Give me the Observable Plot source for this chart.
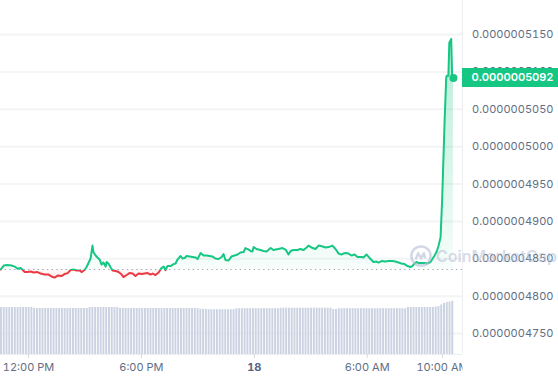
<!DOCTYPE html>
<html>
<head>
<meta charset="utf-8">
<script src="https://cdn.jsdelivr.net/npm/d3@7"></script>
<script src="https://cdn.jsdelivr.net/npm/@observablehq/plot@0.6"></script>
<style>
  html, body { margin: 0; padding: 0; background: #fff; }
  #chart { position: relative; width: 558px; height: 380px; overflow: hidden; font-family: Inter, "Noto Sans", sans-serif; }
  #chart svg { position: absolute; left: 0; top: 0; }
  .badge { position: absolute; background: #16c784; color: #fff; font-size: 11px; font-weight: 600; box-sizing: border-box; height: 19px; line-height: 19px; padding-left: 9.5px; }
  .wm { position: absolute; display: flex; align-items: center; gap: 3px; color: rgba(180,190,212,0.55); font-size: 16px; font-weight: 600; pointer-events: none; }
</style>
</head>
<body>
<div id="chart"></div>
<script>
// ---- data (prices in units of 1e-10 USD) ----
const START = new Date(2023, 4, 17, 10, 31);
const minutes = [
  0,10,22,35,45,54,64,77,86,96,
  105,118,128,140,153,166,172,182,194,204,
  214,223,233,242,252,258,268,274,281,287,
  293,296,303,309,316,322,328,335,338,344,
  351,357,367,376,386,392,402,411,421,430,
  440,450,459,469,478,485,494,504,513,520,
  526,532,542,552,558,564,574,580,587,593,
  603,612,622,628,638,647,657,666,676,685,
  695,705,711,717,727,736,746,756,765,775,
  781,791,797,803,807,816,829,838,848,861,
  870,877,886,899,909,918,925,934,947,956,
  966,976,982,995,1004,1014,1027,1036,1046,1058,
  1068,1078,1087,1093,1100,1109,1119,1129,1138,1151,
  1157,1167,1173,1180,1189,1199,1205,1215,1227,1237,
  1250,1259,1269,1278,1288,1298,1307,1313,1320,1326,
  1333,1342,1352,1361,1371,1377,1384,1390,1396,1403,
  1408,1411,1414,1416,1419,1421,1423,1428,1431,1437,
  1440,1444
];
const prices = [
  4835.6,4841,4841.7,4841,4839.6,4836.6,4837.6,4832.3,4832.3,4833,
  4831.6,4832.3,4830.3,4828.9,4828.9,4825.6,4824.9,4827.6,4826.9,4829.6,
  4830.9,4835.0,4835.6,4834.3,4834.3,4832.3,4835.0,4839.0,4845.0,4850.4,
  4867.7,4859.0,4854.4,4851.7,4849.0,4842.3,4845.0,4839.6,4845.7,4843.7,
  4838.3,4834.3,4833.6,4832.3,4828.9,4825.6,4828.3,4830.9,4830.3,4826.9,
  4830.3,4829.6,4830.3,4830.9,4828.9,4830.3,4828.3,4831.6,4837.6,4839.6,
  4834.8,4840.3,4840.3,4843.0,4843.7,4849.0,4853.7,4850.4,4851.0,4853.7,
  4853.0,4852.4,4851.7,4849.7,4857.7,4854.4,4854.4,4853.7,4853.0,4850.4,
  4849.7,4852.4,4856.4,4848.3,4847.7,4853.0,4854.4,4855.7,4858.4,4859.0,
  4864.4,4862.4,4860.4,4859.7,4865.7,4863.1,4861.7,4860.4,4859.7,4864.4,
  4861.7,4862.4,4863.1,4864.4,4862.4,4855.7,4860.4,4861.7,4861.7,4863.1,
  4861.7,4865.1,4867.7,4864.4,4863.1,4867.7,4866.4,4865.1,4865.7,4867.7,
  4863.1,4857.0,4855.7,4857.0,4857.7,4857.0,4854.4,4855.7,4852.4,4852.4,
  4851.7,4855.7,4853.0,4849.7,4845.7,4846.3,4845.0,4847.0,4846.3,4847.0,
  4847.0,4846.3,4845.0,4843.7,4843.0,4840.3,4839.0,4840.3,4843.7,4845.7,
  4844.3,4844.3,4844.3,4843.7,4845.7,4849.7,4854.4,4859.0,4866.4,4878.4,
  4928,4968,5008,5035,5068,5092,5095,5095,5139,5144,
  5094,5092
];
const OPEN = 4835.6;
const LAST = 5092;

// volume bars (arbitrary units), one per step
const VOL_STEP_MIN = 8.83;
const VOL_BAR_MIN = 6.2;
const volumes = [
  47,47,47,47,47,47,47,47,47,47,47,47,
  46,46,46,46,46,46,46,46,46,46,46,46,46,46,46,46,46,46,46,46,
  47,47,47,47,47,47,47,47,47,47,47,
  46,46,46,46,46,46,46,46,46,46,46,46,46,46,46,46,46,46,46,46,46,46,46,46,46,46,46,46,46,
  45.2,45.2,45.2,
  44.8,44.8,44.8,44.8,44.8,44.8,44.8,44.8,44.8,44.8,
  45.8,45.8,45.8,45.8,45.8,45.8,45.8,45.8,45.8,45.8,45.8,45.8,45.8,45.8,45.8,45.8,
  46.3,46.3,46.3,46.3,46.3,46.3,46.3,46.3,46.3,46.3,46.3,46.3,46.3,46.3,46.3,46.3,46.3,46.3,46.3,
  45,45,
  45.8,45.8,45.8,45.8,45.8,45.8,45.8,45.8,45.8,45.8,45.8,45.8,45.8,45.8,45.8,45.8,45.8,45.8,45.8,45.8,45.8,45.8,45.8,45.8,45.8,
  47,47,47,47,47,47,47,47,47,47,
  47.5,48,49.5,51,52,52.5,53.3
];

const yTicks = [4750, 4800, 4850, 4900, 4950, 5000, 5050, 5100, 5150];
const xTickTimes = [
  new Date(2023, 4, 17, 12, 0),
  new Date(2023, 4, 17, 18, 0),
  new Date(2023, 4, 18, 0, 0),
  new Date(2023, 4, 18, 6, 0),
  new Date(2023, 4, 18, 10, 0)
];
const xTickLabels = ["12:00 PM", "6:00 PM", "18", "6:00 AM", "10:00 AM"];
const X_DOMAIN = [new Date(2023, 4, 17, 10, 30, 40), new Date(2023, 4, 18, 11, 4)];
const Y_DOMAIN = [4722, 5195.5];

// ---- build tables ----
const series = minutes.map((m, i) => ({t: new Date(+START + m * 60000), p: prices[i]}));
const volTable = volumes.map((v, i) => ({
  t1: new Date(+X_DOMAIN[0] + i * VOL_STEP_MIN * 60000),
  t2: new Date(+X_DOMAIN[0] + (i * VOL_STEP_MIN + VOL_BAR_MIN) * 60000),
  v
}));

const W = 558, H = 380;
const common = {width: W, height: H, marginLeft: 0, marginRight: 96, marginBottom: 26};

const main = Plot.plot({
  ...common,
  marginTop: 0,
  style: {fontFamily: "Inter, 'Noto Sans', sans-serif", fontSize: "11px", color: "#616e85", background: "transparent", overflow: "visible"},
  x: {type: "time", domain: X_DOMAIN, label: null},
  y: {domain: Y_DOMAIN, label: null},
  marks: [
    Plot.ruleY(yTicks, {stroke: "#f3f4f6", strokeWidth: 2}),
    Plot.ruleX([X_DOMAIN[1]], {stroke: "#eceef2"}),
    Plot.ruleY([Y_DOMAIN[0]], {stroke: "#eceef2"}),
    Plot.areaY(series, {x: "t", y1: OPEN, y2: "p", fill: "url(#cmcArea)"}),
    Plot.ruleY([OPEN], {stroke: "#9da3ae", strokeDasharray: "1.3,3.4", strokeWidth: 1.1}),
    Plot.line(series, {x: "t", y: "p", stroke: "url(#cmcLine)", strokeWidth: 2}),
    Plot.dot([series[series.length - 1]], {x: "t", y: "p", r: 4, fill: "#16c784"}),
    Plot.axisY({anchor: "right", ticks: yTicks, tickSize: 0, tickPadding: 9.5,
      tickFormat: d => (d / 1e10).toFixed(10), fill: "#616e85", label: null}),
    Plot.axisX({ticks: xTickTimes, tickSize: 4, tickPadding: 5, stroke: "#d5d9e0", fill: "#616e85",
      tickFormat: d => xTickLabels[xTickTimes.findIndex(t => +t === +d)], label: null})
  ]
});

const volPlot = Plot.plot({
  ...common,
  marginTop: 300,
  style: {background: "transparent"},
  x: {type: "time", domain: X_DOMAIN, axis: null},
  y: {domain: [0, 54], axis: null},
  marks: [
    Plot.rect(volTable, {x1: "t1", x2: "t2", y1: 0, y2: "v", fill: "#cbd3e2"})
  ]
});

// ---- gradients & clip, placed using the scales ----
const ys = main.scale("y");
const xs = main.scale("x");
const by = ys.apply(OPEN);
const yHi = ys.apply(d3.max(prices));
const yLo = ys.apply(d3.min(prices));
const frameRight = xs.range[1];

const svgSel = d3.select(main);
const defs = svgSel.insert("defs", ":first-child");
const lg = defs.append("linearGradient").attr("id", "cmcLine").attr("gradientUnits", "userSpaceOnUse")
  .attr("x1", 0).attr("x2", 0).attr("y1", 0).attr("y2", H);
lg.append("stop").attr("offset", by / H).attr("stop-color", "#16c784");
lg.append("stop").attr("offset", by / H).attr("stop-color", "#ea3943");

const ag = defs.append("linearGradient").attr("id", "cmcArea").attr("gradientUnits", "userSpaceOnUse")
  .attr("x1", 0).attr("x2", 0).attr("y1", yHi).attr("y2", yLo);
const f = (by - yHi) / (yLo - yHi);
ag.append("stop").attr("offset", 0).attr("stop-color", "#16c784").attr("stop-opacity", 0.32);
ag.append("stop").attr("offset", f).attr("stop-color", "#16c784").attr("stop-opacity", 0.035);
ag.append("stop").attr("offset", f).attr("stop-color", "#ea3943").attr("stop-opacity", 0.035);
ag.append("stop").attr("offset", 1).attr("stop-color", "#ea3943").attr("stop-opacity", 0.09);

defs.append("clipPath").attr("id", "cmcClipX").append("rect")
  .attr("x", -10).attr("y", -2000).attr("width", frameRight + 10).attr("height", 5000);
svgSel.selectAll('g[aria-label="x-axis tick label"]').attr("clip-path", "url(#cmcClipX)");
svgSel.selectAll('g[aria-label="x-axis tick label"] text').each(function() {
  if (this.textContent === "18") d3.select(this).attr("font-weight", 700).attr("fill", "#58667e");
});

const chart = document.getElementById("chart");
chart.appendChild(main);
chart.appendChild(volPlot);

// watermark
const wm = document.createElement("div");
wm.className = "wm";
wm.style.left = "409px";
wm.style.top = "244px";
wm.innerHTML = '<svg width="24" height="24" viewBox="0 0 25 25" style="position:static"><circle cx="12.5" cy="12.5" r="10" fill="none" stroke="rgba(180,190,212,0.6)" stroke-width="2.6"/><path d="M7 16 L9.5 9.5 L12.5 15 L15.5 9.5 L17 15" fill="none" stroke="rgba(180,190,212,0.6)" stroke-width="2.4" stroke-linejoin="round"/></svg><span>CoinMarketCap</span>';
chart.appendChild(wm);

// last-price badge
const badge = document.createElement("div");
badge.className = "badge";
const yLast = ys.apply(LAST);
badge.style.left = frameRight + "px";
badge.style.top = (yLast - 9.5) + "px";
badge.style.width = (W - frameRight) + "px";
badge.textContent = (LAST / 1e10).toFixed(10);
chart.appendChild(badge);
</script>
</body>
</html>
